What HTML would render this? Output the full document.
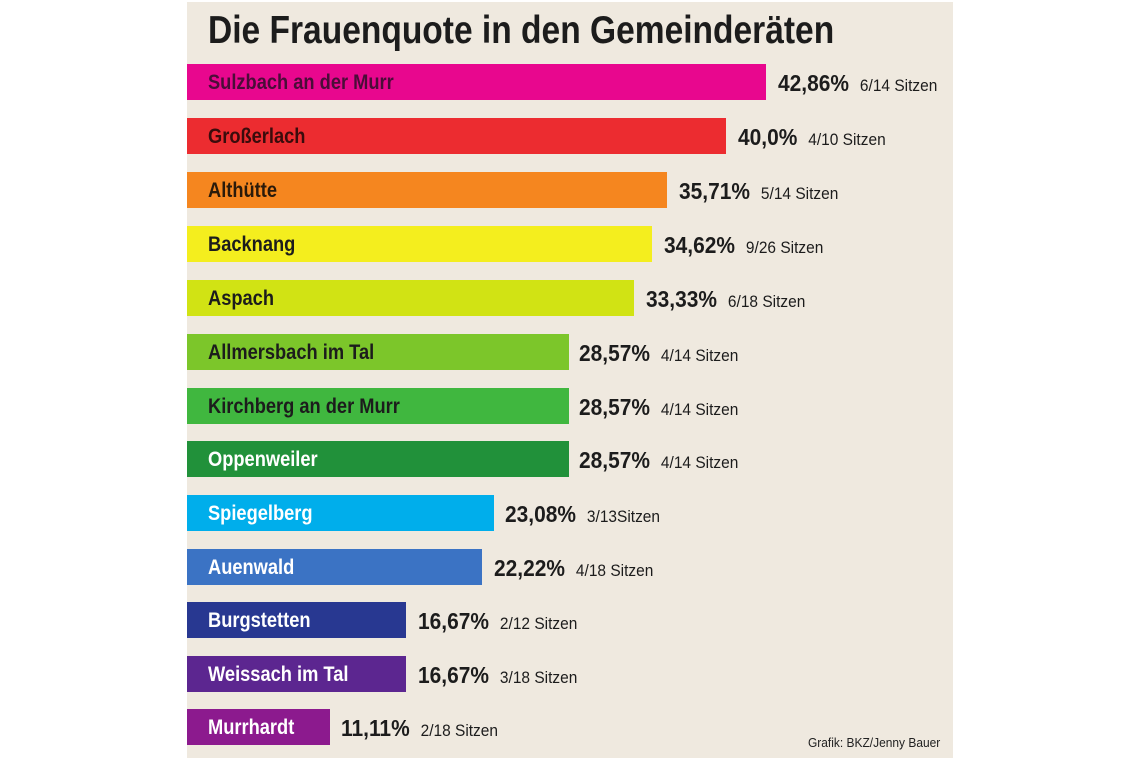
<!DOCTYPE html>
<html><head><meta charset="utf-8"><style>
body{margin:0;width:1140px;height:760px;background:#fff;position:relative;overflow:hidden;font-family:"Liberation Sans",sans-serif}
#p{position:absolute;left:187px;top:2px;width:766px;height:756px;background:#efe9df}
h1{position:absolute;left:208px;top:9px;margin:0;font-size:39px;font-weight:bold;color:#1c1c1c;white-space:nowrap;transform:scaleX(0.86);transform-origin:left}
.b{position:absolute;left:187px;height:36px}
.l{position:absolute;left:208px;height:36px;line-height:38px;font-size:21px;font-weight:bold;white-space:nowrap;transform:scaleX(0.87);transform-origin:left}
.v{position:absolute;height:36px;line-height:39px;white-space:nowrap;color:#1c1c1c;transform:scaleX(0.91);transform-origin:left}
.v b{font-size:23px}
.v span{font-size:17px;margin-left:12px}
.c{position:absolute;left:808px;top:735px;font-size:13px;color:#222;transform:scaleX(0.92);transform-origin:left;white-space:nowrap}
</style></head><body>
<div id="p"></div>
<h1>Die Frauenquote in den Gemeinderäten</h1>

<div class="b" style="top:64px;width:579px;background:#e8078e"></div><div class="l" style="top:64px;color:#4a0d38">Sulzbach an der Murr</div><div class="v" style="top:64px;left:778px"><b>42,86%</b><span>6/14 Sitzen</span></div>
<div class="b" style="top:118px;width:539px;background:#ec2c30"></div><div class="l" style="top:118px;color:#3a0c0c">Großerlach</div><div class="v" style="top:118px;left:738px"><b>40,0%</b><span>4/10 Sitzen</span></div>
<div class="b" style="top:172px;width:480px;background:#f5861f"></div><div class="l" style="top:172px;color:#2a1a0a">Althütte</div><div class="v" style="top:172px;left:679px"><b>35,71%</b><span>5/14 Sitzen</span></div>
<div class="b" style="top:226px;width:465px;background:#f4ee1e"></div><div class="l" style="top:226px;color:#1c1c1c">Backnang</div><div class="v" style="top:226px;left:664px"><b>34,62%</b><span>9/26 Sitzen</span></div>
<div class="b" style="top:280px;width:447px;background:#d1e314"></div><div class="l" style="top:280px;color:#1c1c1c">Aspach</div><div class="v" style="top:280px;left:646px"><b>33,33%</b><span>6/18 Sitzen</span></div>
<div class="b" style="top:334px;width:382px;background:#7cc62a"></div><div class="l" style="top:334px;color:#1c1c1c">Allmersbach im Tal</div><div class="v" style="top:334px;left:579px"><b>28,57%</b><span>4/14 Sitzen</span></div>
<div class="b" style="top:388px;width:382px;background:#40b73f"></div><div class="l" style="top:388px;color:#1c1c1c">Kirchberg an der Murr</div><div class="v" style="top:388px;left:579px"><b>28,57%</b><span>4/14 Sitzen</span></div>
<div class="b" style="top:441px;width:382px;background:#21913a"></div><div class="l" style="top:441px;color:#fff">Oppenweiler</div><div class="v" style="top:441px;left:579px"><b>28,57%</b><span>4/14 Sitzen</span></div>
<div class="b" style="top:495px;width:307px;background:#00aeeb"></div><div class="l" style="top:495px;color:#fff">Spiegelberg</div><div class="v" style="top:495px;left:505px"><b>23,08%</b><span>3/13Sitzen</span></div>
<div class="b" style="top:549px;width:295px;background:#3b73c4"></div><div class="l" style="top:549px;color:#fff">Auenwald</div><div class="v" style="top:549px;left:494px"><b>22,22%</b><span>4/18 Sitzen</span></div>
<div class="b" style="top:602px;width:219px;background:#283891"></div><div class="l" style="top:602px;color:#fff">Burgstetten</div><div class="v" style="top:602px;left:418px"><b>16,67%</b><span>2/12 Sitzen</span></div>
<div class="b" style="top:656px;width:219px;background:#5c2690"></div><div class="l" style="top:656px;color:#fff">Weissach im Tal</div><div class="v" style="top:656px;left:418px"><b>16,67%</b><span>3/18 Sitzen</span></div>
<div class="b" style="top:709px;width:143px;background:#8c1a8e"></div><div class="l" style="top:709px;color:#fff">Murrhardt</div><div class="v" style="top:709px;left:341px"><b>11,11%</b><span>2/18 Sitzen</span></div>
<div class="c">Grafik: BKZ/Jenny Bauer</div>
</body></html>
